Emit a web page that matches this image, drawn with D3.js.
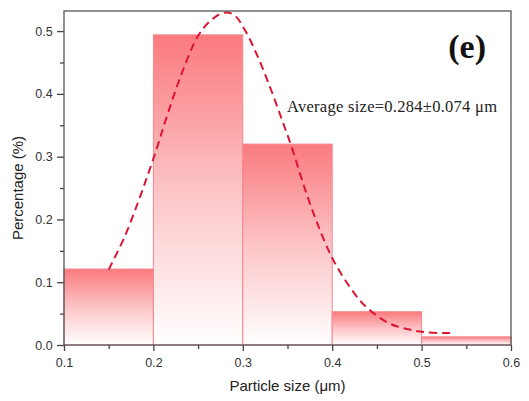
<!DOCTYPE html>
<html>
<head>
<meta charset="utf-8">
<script src="https://cdn.jsdelivr.net/npm/d3@7"></script>
<style>
  body { margin: 0; background: #fff; }
  svg { display: block; }
</style>
</head>
<body>
<div id="chart"></div>
<script>
// histogram bins (particle size, µm) and their share
var binStart = [0.1, 0.2, 0.3, 0.4, 0.5];
var binEnd = [0.2, 0.3, 0.4, 0.5, 0.6];
var binValue = [0.121, 0.494, 0.320, 0.053, 0.013];

// fitted distribution curve
var curveX = [0.150, 0.168, 0.183, 0.194, 0.204, 0.213, 0.231, 0.249, 0.262, 0.278, 0.290, 0.303, 0.318,
              0.332, 0.344, 0.354, 0.372, 0.390, 0.404, 0.425, 0.440, 0.463, 0.485, 0.507, 0.535];
var curveY = [0.120, 0.173, 0.228, 0.272, 0.314, 0.355, 0.430, 0.490, 0.514, 0.529, 0.526, 0.500, 0.455,
              0.405, 0.358, 0.318, 0.238, 0.170, 0.128, 0.082, 0.058, 0.035, 0.025, 0.020, 0.019];

var xTicks = [0.1, 0.2, 0.3, 0.4, 0.5, 0.6];
var yTicks = [0.0, 0.1, 0.2, 0.3, 0.4, 0.5];

var width = 529, height = 401;
var margin = {top: 11, right: 18, bottom: 56, left: 64};

var svg = d3.select("#chart").append("svg")
    .attr("width", width)
    .attr("height", height);

var x = d3.scaleLinear().domain([0.1, 0.6]).range([margin.left, width - margin.right]);
var y = d3.scaleLinear().domain([0, 0.532]).range([height - margin.bottom, margin.top]);

var defs = svg.append("defs");
var grad = defs.append("linearGradient")
    .attr("id", "barFill")
    .attr("x1", 0).attr("y1", 0).attr("x2", 0).attr("y2", 1);
grad.append("stop").attr("offset", "0%").attr("stop-color", "#fa7a7e");
grad.append("stop").attr("offset", "50%").attr("stop-color", "#fcc4c6");
grad.append("stop").attr("offset", "100%").attr("stop-color", "#ffffff");

// bars
var bins = binStart.map(function (d, i) { return {x0: d, x1: binEnd[i], v: binValue[i]}; });
svg.selectAll("rect.bar")
    .data(bins)
    .enter()
    .append("rect")
    .attr("class", "bar")
    .attr("x", function (d) { return x(d.x0); })
    .attr("y", function (d) { return y(d.v); })
    .attr("width", function (d) { return x(d.x1) - x(d.x0); })
    .attr("height", function (d) { return y(0) - y(d.v); })
    .attr("fill", "url(#barFill)")
    .attr("stroke", "#f3898e")
    .attr("stroke-width", 1);

// dashed fit line
var pts = curveX.map(function (d, i) { return [d, curveY[i]]; });
var line = d3.line()
    .x(function (d) { return x(d[0]); })
    .y(function (d) { return y(d[1]); })
    .curve(d3.curveCatmullRom);
svg.append("path")
    .datum(pts)
    .attr("d", line)
    .attr("fill", "none")
    .attr("stroke", "#dc1530")
    .attr("stroke-width", 2)
    .attr("stroke-dasharray", "8,5");

// axes
var fmt = d3.format(".1f");
var xAxis = svg.append("g")
    .attr("transform", "translate(0," + y(0) + ")")
    .call(d3.axisBottom(x).tickValues(xTicks).tickFormat(fmt).tickSize(6).tickSizeOuter(0));
var xMinor = svg.append("g")
    .attr("transform", "translate(0," + y(0) + ")")
    .call(d3.axisBottom(x).tickValues([0.15, 0.25, 0.35, 0.45, 0.55]).tickFormat("").tickSize(4).tickSizeOuter(0));

var yAxis = svg.append("g")
    .attr("transform", "translate(" + margin.left + ",0)")
    .call(d3.axisLeft(y).tickValues(yTicks).tickFormat(fmt).tickSize(7).tickSizeOuter(0));
var yMinor = svg.append("g")
    .attr("transform", "translate(" + margin.left + ",0)")
    .call(d3.axisLeft(y).tickValues([0.05, 0.15, 0.25, 0.35, 0.45]).tickFormat("").tickSize(4).tickSizeOuter(0));

[xAxis, xMinor, yAxis, yMinor].forEach(function (g) {
    g.select(".domain").remove();
    g.selectAll("line").attr("stroke", "#444").attr("stroke-width", 1.3);
    g.selectAll("text")
        .attr("fill", "#333")
        .style("font-family", "Arial, 'Liberation Sans', sans-serif")
        .style("font-size", "12.5px");
});
xAxis.selectAll("text").attr("dy", "1.05em");
yAxis.selectAll("text").attr("dx", "-0.1em");

// frame
svg.append("rect")
    .attr("x", margin.left)
    .attr("y", margin.top)
    .attr("width", width - margin.left - margin.right)
    .attr("height", height - margin.top - margin.bottom)
    .attr("fill", "none")
    .attr("stroke", "#555")
    .attr("stroke-width", 1.3);

// titles
svg.append("text")
    .attr("x", (margin.left + width - margin.right) / 2)
    .attr("y", 391)
    .attr("text-anchor", "middle")
    .style("font-family", "Arial, 'Liberation Sans', sans-serif")
    .style("font-size", "15px")
    .attr("fill", "#222")
    .text("Particle size (μm)");

svg.append("text")
    .attr("transform", "translate(23,188) rotate(-90)")
    .attr("text-anchor", "middle")
    .style("font-family", "Arial, 'Liberation Sans', sans-serif")
    .style("font-size", "15px")
    .attr("fill", "#222")
    .text("Percentage (%)");

svg.append("text")
    .attr("x", 486)
    .attr("y", 58)
    .attr("text-anchor", "end")
    .style("font-family", "'Liberation Serif', 'Times New Roman', serif")
    .style("font-size", "34px")
    .style("font-weight", "bold")
    .attr("fill", "#111")
    .text("(e)");

svg.append("text")
    .attr("x", 287)
    .attr("y", 112)
    .attr("textLength", 210)
    .style("font-family", "'Liberation Serif', 'Times New Roman', serif")
    .style("font-size", "16.5px")
    .attr("fill", "#222")
    .text("Average size=0.284±0.074 μm");
</script>
</body>
</html>
